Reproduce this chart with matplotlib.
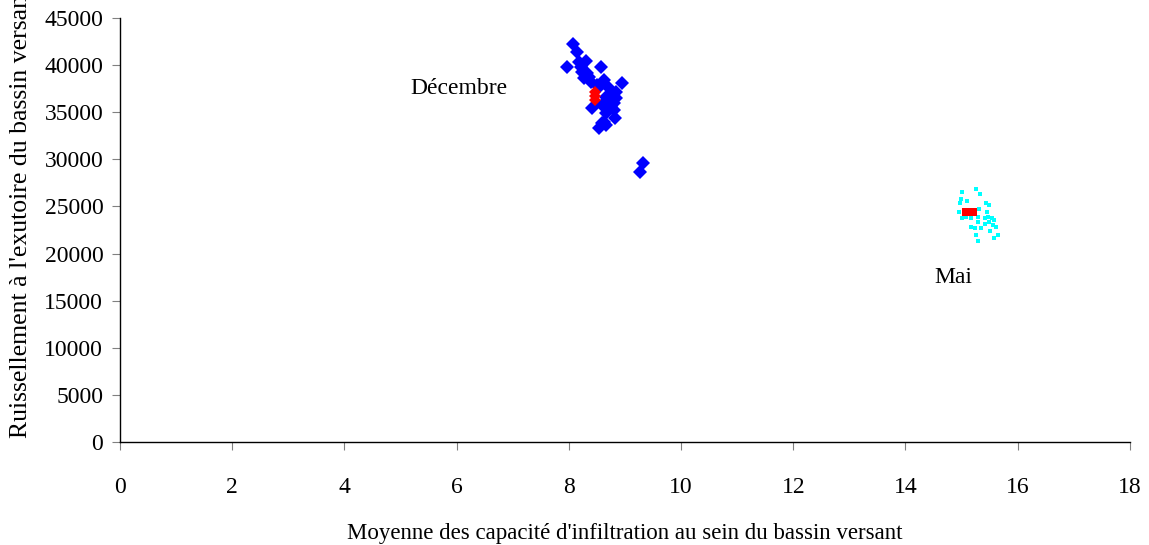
import numpy as np
import matplotlib.pyplot as plt

# Decembre cloud
dec_x = [8.07, 8.14, 7.96, 8.30, 8.19, 8.57, 8.24, 8.33, 8.27, 8.39, 8.63, 8.94,
         8.69, 8.84, 8.72, 8.81, 8.60, 8.42, 8.81, 8.83, 8.63, 8.53, 8.66, 9.33,
         9.27, 8.22, 8.36, 8.51, 8.75, 8.66, 8.75, 8.54, 8.84, 8.66, 8.60]
dec_y = [42230, 41350, 39760, 40460, 40350, 39820, 39290, 39120, 38590, 38230, 38410, 38060,
         37700, 37170, 36290, 35940, 35760, 35410, 35230, 34410, 33990, 33280, 33630, 29570,
         28620, 39820, 38760, 37880, 36820, 36640, 35580, 37700, 36470, 34880, 33810]

# Mai cloud
mai_x = [15.26, 15.01, 15.32, 14.99, 15.09, 14.98, 15.43, 15.49, 14.96, 15.31, 15.45, 15.01,
         15.16, 15.30, 15.41, 15.47, 15.55, 15.58, 15.30, 15.41, 15.49, 15.17, 15.24, 15.35,
         15.56, 15.61, 15.51, 15.26, 15.65, 15.58, 15.29, 15.07]
mai_y = [26840, 26490, 26310, 25780, 25600, 25330, 25330, 25110, 24400, 24750, 24440, 23730,
         23730, 23900, 23730, 23900, 23800, 23550, 23370, 23130, 23370, 22840, 22670, 22670,
         23020, 22780, 22360, 22000, 21960, 21680, 21330, 23900]

# mean points (red)
moy_dec_x = [8.47, 8.47, 8.47]
moy_dec_y = [37100, 36700, 36300]
moy_mai_x = [15.08, 15.20]
moy_mai_y = [24450, 24450]

plt.rcParams['font.family'] = ['Liberation Serif', 'DejaVu Serif']

fig = plt.figure(figsize=(11.49, 5.45), dpi=100)
ax = fig.add_axes([0.1044, 0.189, 0.879, 0.778])

ax.plot(dec_x, dec_y, 'D', color='#0000ff', ms=7, mew=0)
ax.plot(mai_x, mai_y, 's', color='#00ffff', ms=2.2, mew=0)
ax.plot(moy_dec_x, moy_dec_y, 'D', color='#ff0000', ms=6, mew=0)
ax.plot(moy_mai_x, moy_mai_y, 's', color='#ff0000', ms=6, mew=0)

ax.text(6.05, 37500, 'Décembre', fontsize=17, ha='center', va='center')
ax.text(14.86, 17500, 'Mai', fontsize=17, ha='center', va='center')

ax.set_xlim(0, 18)
ax.set_ylim(0, 45000)
ax.set_xticks(np.arange(0, 19, 2))
ax.set_yticks(np.arange(0, 45001, 5000))
ax.spines['top'].set_visible(False)
ax.spines['right'].set_visible(False)
for s in ['left', 'bottom']:
    ax.spines[s].set_color('black')
    ax.spines[s].set_linewidth(1)
ax.tick_params(direction='out', length=6, color='#808080', labelsize=17)
ax.tick_params(axis='x', pad=19)
ax.tick_params(axis='y', pad=6)

ax.set_xlabel("Moyenne des capacité d'infiltration au sein du bassin versant", fontsize=16.5, labelpad=18)
fig.text(0.018, 1 - 438 / 545, "Ruissellement à l'exutoire du bassin versant",
         rotation=90, fontsize=18.5, ha='center', va='bottom')

fig.savefig('out.png', dpi=100)
